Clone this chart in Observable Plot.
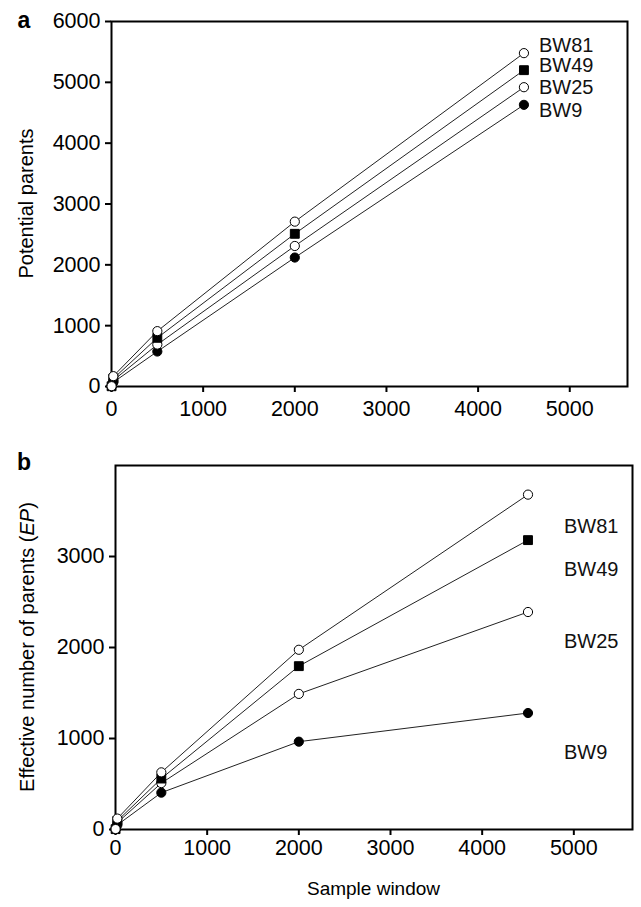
<!DOCTYPE html>
<html><head><meta charset="utf-8">
<script src="https://cdn.jsdelivr.net/npm/d3@7"></script>
<script src="https://cdn.jsdelivr.net/npm/@observablehq/plot@0.6"></script>
<style>
body{margin:0;background:#fff;font-family:"Liberation Sans",Arial,sans-serif}
#chart svg{display:block}
.plt g[aria-label$="tick"] path,.plt .tick line{stroke-width:2;stroke:#000}
.plt g[aria-label$="tick label"], .plt g[aria-label$="tick label"] text, .plt .tick text{font-size:21.5px !important}
</style>
</head><body><div id="chart"></div>
<script>
// ---- data ----
const sampleWindow = [1, 20, 500, 2000, 4500];
const seriesNames = ["BW9", "BW25", "BW49", "BW81"];
// panel a: potential parents
const potBW81 = [5, 170, 910, 2710, 5480];
const potBW49 = [4, 130, 800, 2510, 5200];
const potBW25 = [3, 100, 690, 2310, 4920];
const potBW9  = [2, 70, 575, 2120, 4630];
// panel b: effective number of parents
const epBW81 = [5, 120, 628, 1975, 3680];
const epBW49 = [4, 95, 560, 1795, 3180];
const epBW25 = [3, 75, 510, 1490, 2390];
const epBW9  = [2, 50, 405, 965, 1280];
const xTicks = [0, 1000, 2000, 3000, 4000, 5000];
const yTicksA = [0, 1000, 2000, 3000, 4000, 5000, 6000];
const yTicksB = [0, 1000, 2000, 3000];

const W = 641;
const FS = 20;
const rows = (vals, name) => sampleWindow.map((x, i) => ({series: name, x, y: vals[i]}));
const dataA = {BW81: rows(potBW81, "BW81"), BW49: rows(potBW49, "BW49"), BW25: rows(potBW25, "BW25"), BW9: rows(potBW9, "BW9")};
const dataB = {BW81: rows(epBW81, "BW81"), BW49: rows(epBW49, "BW49"), BW25: rows(epBW25, "BW25"), BW9: rows(epBW9, "BW9")};

const markerStyle = {
  BW81: {symbol: "circle", fill: "white", r: 4.6},
  BW49: {symbol: "square", fill: "black", r: 5},
  BW25: {symbol: "circle", fill: "white", r: 4.6},
  BW9:  {symbol: "circle", fill: "black", r: 4.6}
};

function seriesMarks(data, labelDx, labelDy) {
  const marks = [];
  for (const s of seriesNames) {
    marks.push(Plot.line(data[s], {x: "x", y: "y", stroke: "#222", strokeWidth: 1}));
  }
  for (const s of seriesNames) {
    const m = markerStyle[s];
    marks.push(Plot.dot(data[s], {x: "x", y: "y", symbol: m.symbol, r: m.r, fill: m.fill, stroke: "black", strokeWidth: 1}));
    const last = data[s][data[s].length - 1];
    marks.push(Plot.text([last], {x: "x", y: "y", text: "series", textAnchor: "start", dx: labelDx, dy: labelDy[s], fontSize: FS, fill: "#111"}));
  }
  return marks;
}

const commonStyle = {fontSize: "20px", fontFamily: "'Liberation Sans', Arial, sans-serif", color: "#000", background: "white", overflow: "visible"};

// panel a
const mA = {top: 21, right: 14, bottom: 54, left: 111};
const hA = 440;
const plotA = Plot.plot({
  width: W, height: hA, className: "plt",
  marginTop: mA.top, marginRight: mA.right, marginBottom: mA.bottom, marginLeft: mA.left,
  style: commonStyle,
  x: {domain: [0, 5630], ticks: xTicks, tickFormat: d => String(d), tickSize: 6, tickPadding: 8, label: null},
  y: {domain: [0, 6000], ticks: yTicksA, tickFormat: d => String(d), tickSize: 6, tickPadding: 5, label: null},
  marks: [
    Plot.frame({stroke: "black", strokeWidth: 2}),
    ...seriesMarks(dataA, 15, {BW81: -8, BW49: -5, BW25: 0, BW9: 6})
  ]
});

// panel b
const mB = {top: 25, right: 9, bottom: 78, left: 115};
const hB = 467;
const plotB = Plot.plot({
  width: W, height: hB, className: "plt",
  marginTop: mB.top, marginRight: mB.right, marginBottom: mB.bottom, marginLeft: mB.left,
  style: commonStyle,
  x: {domain: [0, 5640], ticks: xTicks, tickFormat: d => String(d), tickSize: 6, tickPadding: 4, label: null},
  y: {domain: [0, 4000], ticks: yTicksB, tickFormat: d => String(d), tickSize: 6, tickPadding: 5, label: null},
  marks: [
    Plot.frame({stroke: "black", strokeWidth: 2}),
    ...seriesMarks(dataB, 36, {BW81: 32, BW49: 29, BW25: 30, BW9: 40})
  ]
});

// titles and panel letters
function addText(svg, x, y, txt, opts = {}) {
  const t = d3.select(svg).append("text")
    .attr("x", x).attr("y", y)
    .attr("text-anchor", opts.anchor || "middle")
    .attr("dominant-baseline", "central")
    .attr("font-size", opts.size || FS)
    .attr("font-weight", opts.weight || "normal")
    .attr("fill", "#000");
  if (txt != null) t.text(txt);
  if (opts.rotate) t.attr("transform", `rotate(-90 ${x} ${y})`);
  return t;
}
addText(plotA, 24, 20, "a", {size: 23, weight: "bold"});
addText(plotA, 26, (mA.top + hA - mA.bottom) / 2, "Potential parents", {rotate: true});

addText(plotB, 24, 22, "b", {size: 23, weight: "bold"});
const yl = addText(plotB, 27, (mB.top + hB - mB.bottom) / 2, null, {rotate: true});
yl.append("tspan").text("Effective number of parents (");
yl.append("tspan").attr("font-style", "italic").text("EP");
yl.append("tspan").text(")");
addText(plotB, (mB.left + W - mB.right) / 2, 448, "Sample window", {size: 19});

document.getElementById("chart").append(plotA, plotB);
</script>
</body></html>
